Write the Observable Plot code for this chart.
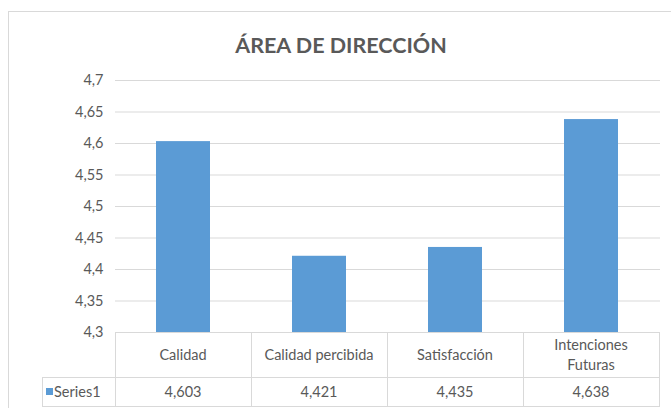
<!DOCTYPE html>
<html>
<head>
<meta charset="utf-8">
<script src="https://cdn.jsdelivr.net/npm/d3@7"></script>
<script src="https://cdn.jsdelivr.net/npm/@observablehq/plot@0.6"></script>
<style>
  html, body { margin: 0; padding: 0; background: #fff; }
  #wrap { position: relative; width: 671px; height: 408px; overflow: hidden; background: #fff;
          font-family: "Lato", "Roboto", sans-serif; }
  #frame { position: absolute; left: 8px; top: 11px; width: 700px; height: 420px; border: 1px solid #d9d9d9; box-sizing: border-box; }
  #title { position: absolute; left: 0; width: 682px; top: 32px; text-align: center; font-size: 21.5px; font-weight: bold; color: #595959; }
  #chart { position: absolute; left: 0; top: 0; }
</style>
</head>
<body>
<div id="wrap">
  <div id="frame"></div>
  <div id="title">ÁREA DE DIRECCIÓN</div>
  <div id="chart"></div>
</div>
<script>
const title = "ÁREA DE DIRECCIÓN";
const categories = ["Calidad", "Calidad percibida", "Satisfacción", "Intenciones Futuras"];
const categoryLines = [["Calidad"], ["Calidad percibida"], ["Satisfacción"], ["Intenciones", "Futuras"]];
const values = [4.603, 4.421, 4.435, 4.638];
const valueLabels = ["4,603", "4,421", "4,435", "4,638"];
const seriesName = "Series1";
const yTicks = [4.3, 4.35, 4.4, 4.45, 4.5, 4.55, 4.6, 4.65, 4.7];

const data = categories.map((c, i) => ({category: c, value: values[i], label: valueLabels[i], lines: categoryLines[i]}));
const fmt = d => String(+d.toFixed(2)).replace(".", ",");
const barColor = "#5b9bd5";
const lineColor = "#d9d9d9";
const textColor = "#595959";
const font = '"Lato", "Roboto", sans-serif';

// Data table drawn from the x band scale
function tableMark(index, scales, values_, dims) {
  const x = scales.x;
  const step = x.step();
  const bw = x.bandwidth();
  const top = dims.height - dims.marginBottom;
  const row1 = 45, row2 = 29;
  const legendLeft = 42;
  const g = d3.create("svg:g").attr("font-family", font).attr("fill", textColor);
  const left = dims.marginLeft, right = dims.width - dims.marginRight;
  const lines = g.append("g").attr("stroke", lineColor).attr("stroke-width", 1).attr("shape-rendering", "crispEdges");
  lines.append("line").attr("x1", left).attr("x2", right).attr("y1", top + 0.5).attr("y2", top + 0.5);
  lines.append("line").attr("x1", legendLeft).attr("x2", right).attr("y1", top + row1 + 0.5).attr("y2", top + row1 + 0.5);
  lines.append("line").attr("x1", legendLeft).attr("x2", right).attr("y1", top + row1 + row2 + 0.5).attr("y2", top + row1 + row2 + 0.5);
  lines.append("line").attr("x1", legendLeft + 0.5).attr("x2", legendLeft + 0.5).attr("y1", top + row1).attr("y2", top + row1 + row2);
  lines.append("line").attr("x1", left + 0.5).attr("x2", left + 0.5).attr("y1", top).attr("y2", top + row1 + row2);
  data.forEach(d => {
    const cx = x(d.category) + bw / 2;
    const xr = Math.round(cx + step / 2) + 0.5;
    lines.append("line").attr("x1", xr).attr("x2", xr).attr("y1", top).attr("y2", top + row1 + row2);
    const n = d.lines.length;
    d.lines.forEach((t, k) => {
      g.append("text").attr("x", cx).attr("y", top + row1 / 2 + (k - (n - 1) / 2) * 20)
        .attr("dy", "0.35em").attr("text-anchor", "middle").attr("font-size", 14.5).text(t);
    });
    g.append("text").attr("x", cx).attr("y", top + row1 + row2 / 2).attr("dy", "0.35em")
      .attr("text-anchor", "middle").attr("font-size", 14.5).text(d.label);
  });
  g.append("rect").attr("x", legendLeft + 4).attr("y", top + row1 + row2 / 2 - 3.5).attr("width", 7).attr("height", 7).attr("fill", barColor);
  g.append("text").attr("x", legendLeft + 12).attr("y", top + row1 + row2 / 2).attr("dy", "0.35em")
    .attr("text-anchor", "start").attr("font-size", 14.5).text(seriesName);
  return g.node();
}

const chart = Plot.plot({
  width: 671,
  height: 408,
  marginLeft: 115,
  marginRight: 11,
  marginTop: 80,
  marginBottom: 76,
  style: {background: "transparent", fontFamily: font, fontSize: "14px", color: textColor},
  x: {domain: categories, paddingInner: 0.6, paddingOuter: 0.3, axis: null},
  y: {domain: [4.3, 4.7], ticks: yTicks, tickFormat: fmt, tickSize: 0, tickPadding: 12, label: null},
  marks: [
    Plot.ruleY(yTicks.slice(1), {stroke: lineColor, strokeOpacity: 1}),
    Plot.barY(data, {x: "category", y1: 4.3, y2: "value", fill: barColor}),
    Plot.axisY({ticks: yTicks, tickFormat: fmt, tickSize: 0, tickPadding: 12, label: null, fill: textColor, fontSize: 14.5}),
    tableMark
  ]
});
document.getElementById("chart").appendChild(chart);
</script>
</body>
</html>
